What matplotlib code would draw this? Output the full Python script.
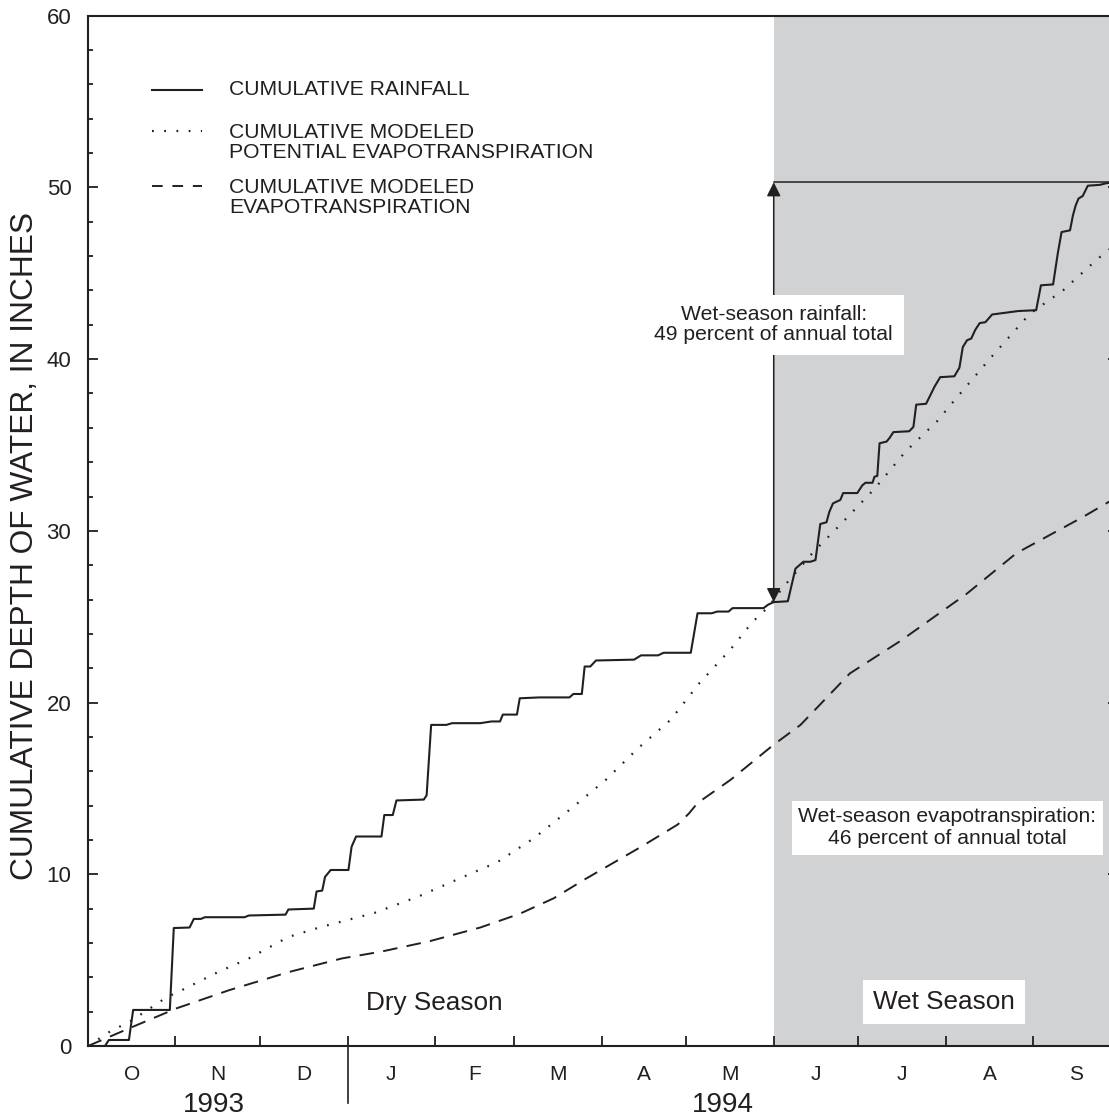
import numpy as np
import matplotlib
matplotlib.use('Agg')
import matplotlib.pyplot as plt

plt.rcParams['font.family'] = ['Liberation Sans', 'DejaVu Sans']

ink = '#231f20'
shade = '#d1d2d4'

# день 0 = 1 октября 1993, значения в дюймах
rain_day = [0, 6, 7.4, 14.5, 16, 29, 30.4, 36, 37.5, 40, 41.4, 55.5, 57, 70, 71, 80, 81, 83, 84,
            86, 92.3, 93.4, 95, 104, 105, 108, 109.3, 119, 120, 121.6, 127, 129, 139, 143, 146, 147,
            152, 153, 160, 170.6, 172, 175, 176, 178, 180, 193.5, 196, 202, 204, 213.6, 216, 221,
            223, 227, 228.4, 239.4, 241, 243, 248, 250.7, 253.5, 256, 257.8, 259.5, 261.7, 262.7,
            264, 266.6, 267.6, 272.6, 274.4, 275.5, 278, 278.7, 279.7, 280.5, 283, 284, 285.4, 291,
            292.5, 293.5, 297, 298.5, 300, 302, 307, 308.8, 310, 311.5, 313, 314.4, 316, 318, 320.4,
            329.6, 336, 337.7, 342, 343.7, 345, 348, 349, 350, 351, 352.5, 354.3, 358.6, 361, 365]
rain_val = [0, 0, 0.35, 0.35, 2.1, 2.1, 6.87, 6.9, 7.4, 7.4, 7.5, 7.5, 7.6, 7.65, 7.95, 8.0, 9.0,
            9.05, 9.85, 10.25, 10.25, 11.6, 12.2, 12.2, 13.45, 13.45, 14.3, 14.35, 14.6, 18.7, 18.7,
            18.8, 18.8, 18.9, 18.9, 19.3, 19.3, 20.25, 20.3, 20.3, 20.5, 20.5, 22.1, 22.1, 22.45,
            22.5, 22.75, 22.75, 22.9, 22.9, 25.2, 25.2, 25.3, 25.3, 25.5, 25.5, 25.7, 25.85, 25.9,
            27.8, 28.2, 28.2, 28.3, 30.4, 30.5, 31.1, 31.6, 31.8, 32.2, 32.2, 32.65, 32.8, 32.8,
            33.15, 33.2, 35.1, 35.2, 35.4, 35.75, 35.8, 36.05, 37.35, 37.4, 37.9, 38.4, 38.95, 39.0,
            39.5, 40.7, 41.1, 41.2, 41.7, 42.1, 42.15, 42.6, 42.8, 42.85, 44.3, 44.35, 46.2, 47.4,
            47.5, 48.35, 48.95, 49.35, 49.5, 50.1, 50.15, 50.25, 50.3]

pet_day = [0, 7.4, 15.6, 28, 32, 46, 57, 71, 83, 101.5, 117, 133, 145, 158, 171, 183.5, 195, 206.5,
           216.5, 227.7, 235.5, 241, 246, 256.7, 268, 279, 289.6, 301, 306, 320, 333.8, 345.5, 357.5,
           365]
pet_val = [0, 0.8, 1.5, 2.85, 3.15, 4.3, 5.1, 6.35, 6.95, 7.75, 8.7, 9.85, 10.7, 12.1, 13.8, 15.5,
           17.35, 19.0, 21.1, 23.1, 24.7, 25.55, 26.65, 28.7, 30.6, 32.5, 34.6, 36.4, 37.4, 40.1,
           42.65, 44.0, 45.8, 46.8]

et_day = [0, 15.6, 31.5, 50, 71, 90, 104, 121, 139, 153, 165, 176, 196, 209, 213, 216, 227.7, 243,
          252.5, 270, 288, 311.5, 329, 352.5, 365]
et_val = [0, 1.1, 2.2, 3.25, 4.3, 5.1, 5.5, 6.1, 6.9, 7.7, 8.6, 9.7, 11.6, 12.9, 13.55, 14.15, 15.5,
          17.55, 18.7, 21.7, 23.6, 26.35, 28.7, 30.8, 32.0]

month_labels = ['O', 'N', 'D', 'J', 'F', 'M', 'A', 'M', 'J', 'J', 'A', 'S']
month_starts = [0, 31, 61, 92, 123, 151, 182, 212, 243, 273, 304, 335, 365]
wet_start = 243

fig = plt.figure(figsize=(11.09, 11.19), dpi=100)
ax = fig.add_axes([88 / 1109, 1 - 1046 / 1119, 1030 / 1109, 1030.3 / 1119])
ax.set_xlim(0, 365)
ax.set_ylim(0, 60)

ax.axvspan(wet_start, 365, color=shade, lw=0, zorder=0)

ax.plot(rain_day, rain_val, color=ink, lw=1.5, zorder=3)
ax.plot(pet_day, pet_val, color=ink, lw=1.6, ls=(0, (0.8, 4.7)), zorder=3)
ax.plot(et_day, et_val, color=ink, lw=1.4, ls=(0, (7.5, 4.8)), zorder=3)

# стрелка и итоговая линия осадков
rain_total = rain_val[-1]
rain_at_wet = np.interp(wet_start, rain_day, rain_val)
ax.plot([wet_start, 365], [rain_total, rain_total], color=ink, lw=1.1, zorder=2)
ax.annotate('', xy=(wet_start, rain_total), xytext=(wet_start, rain_at_wet),
            arrowprops=dict(arrowstyle='<|-|>', color=ink, lw=1.1, mutation_scale=21,
                            shrinkA=0, shrinkB=0), zorder=2)

ax.text(wet_start, 42.0, 'Wet-season rainfall:\n49 percent of annual total', fontsize=15.2,
        color=ink, ha='center', va='center', linespacing=1.05,
        bbox=dict(boxstyle='square,pad=0.5', fc='white', ec='none'), zorder=4)
ax.text(304.5, 12.7, 'Wet-season evapotranspiration:\n46 percent of annual total', fontsize=15.2,
        color=ink, ha='center', va='center', linespacing=1.2,
        bbox=dict(boxstyle='square,pad=0.3', fc='white', ec='none'), zorder=4)
ax.text(122.7, 2.5, 'Dry Season', fontsize=18.8, color=ink, ha='center', va='center')
ax.text(303.4, 2.55, 'Wet Season', fontsize=18.8, color=ink, ha='center', va='center',
        bbox=dict(boxstyle='square,pad=0.38', fc='white', ec='none'), zorder=4)

# легенда вручную
ax.plot([22.6, 40.3], [55.7, 55.7], color=ink, lw=1.5)
ax.plot([22.6, 40.3], [53.3, 53.3], color=ink, lw=1.6, ls=(0, (0.8, 4.7)))
ax.plot([22.6, 40.3], [50.1, 50.1], color=ink, lw=1.4, ls=(0, (5.5, 5)))
ax.text(49.9, 55.7, 'CUMULATIVE RAINFALL', fontsize=15.2, color=ink, va='center')
ax.text(49.9, 52.6, 'CUMULATIVE MODELED\nPOTENTIAL EVAPOTRANSPIRATION', fontsize=15.2,
        color=ink, va='center', linespacing=1.05)
ax.text(49.9, 49.4, 'CUMULATIVE MODELED\nEVAPOTRANSPIRATION', fontsize=15.2,
        color=ink, va='center', linespacing=1.05)

# оси
for s in ax.spines.values():
    s.set_color(ink)
    s.set_linewidth(1.5)

mids = [(a + b) / 2 for a, b in zip(month_starts[:-1], month_starts[1:])]
ax.set_xticks(month_starts[1:-1])
ax.set_xticklabels([])
ax.set_xticks(mids, minor=True)
ax.set_xticklabels(month_labels, minor=True, fontsize=15, color=ink)
ax.tick_params(axis='x', which='major', direction='in', length=7.5, width=1.3, color=ink)
ax.tick_params(axis='x', which='minor', length=0, pad=14)

ax.set_yticks(np.arange(0, 61, 10))
ax.set_yticks(np.arange(0, 61, 2), minor=True)
ax.tick_params(axis='y', which='both', direction='in', right=True, color=ink, width=1.3)
ax.tick_params(axis='y', which='major', length=7.5, labelsize=16, labelcolor=ink, pad=12)
ax.tick_params(axis='y', which='minor', length=3.8)

# годы и разделитель
xt = ax.get_xaxis_transform()
ax.plot([month_starts[3], month_starts[3]], [0, -0.0555], color=ink, lw=1.2,
        transform=xt, clip_on=False)
ax.text(44.5, -0.0575, '1993', fontsize=20, color=ink, ha='center', va='center', transform=xt)
ax.text(225, -0.0575, '1994', fontsize=20, color=ink, ha='center', va='center', transform=xt)

fig.text(25 / 1109, 1 - 546 / 1119, 'CUMULATIVE DEPTH OF WATER, IN INCHES', rotation=90,
         fontsize=22.8, color=ink, ha='center', va='center')

plt.savefig('out.png', dpi=100)
